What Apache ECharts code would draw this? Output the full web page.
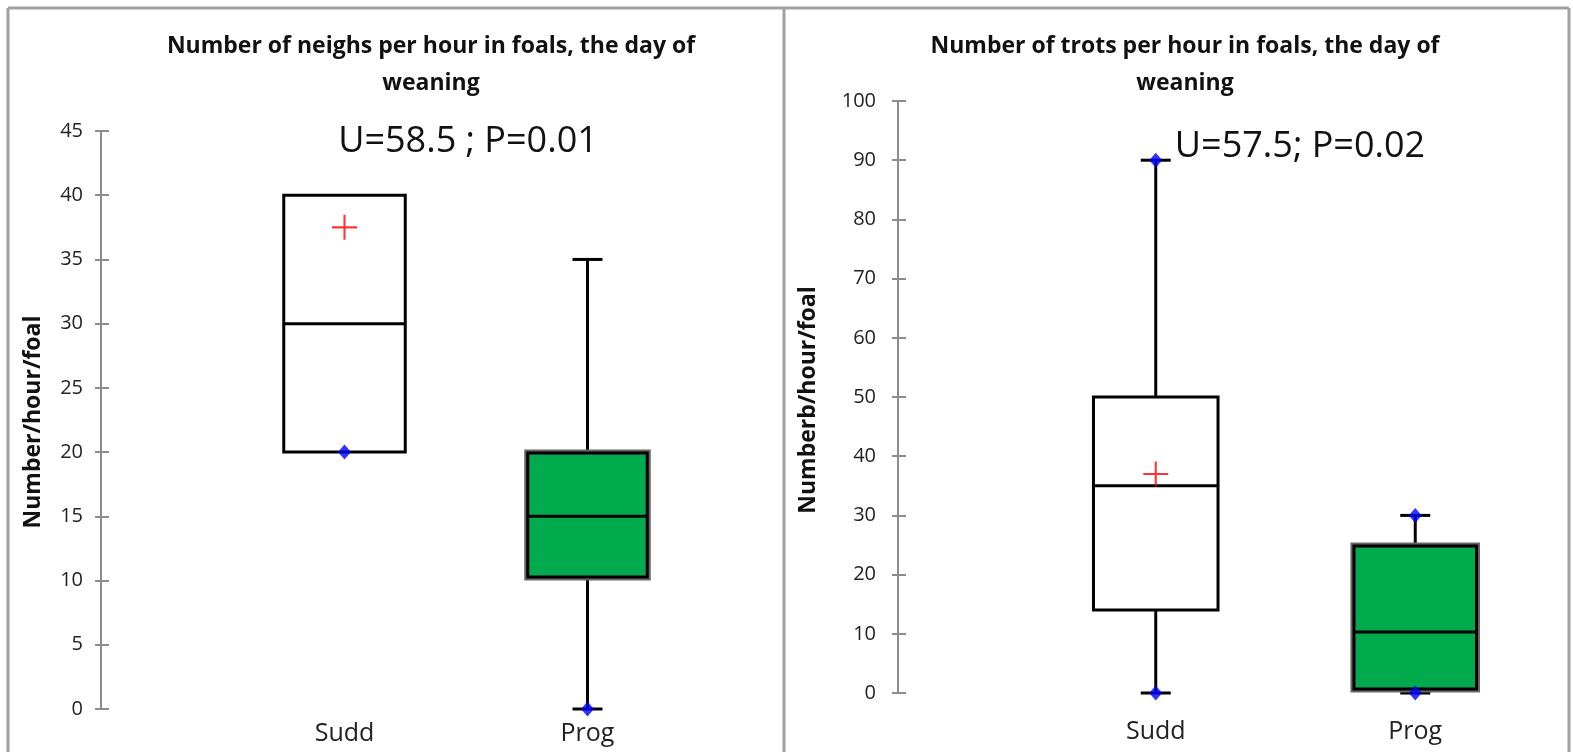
<!DOCTYPE html>
<html>
<head>
<meta charset="utf-8">
<script src="https://cdn.jsdelivr.net/npm/echarts@6/dist/echarts.min.js"></script>
<style>
html,body{margin:0;padding:0;background:#fff;}
#chart{width:1573px;height:752px;}
</style>
</head>
<body>
<div id="chart"></div>
<script>
// ---- data ----
const categories = ['Sudd', 'Prog'];
// [min, Q1, median, Q3, max]
const neighsBox = [[20, 20, 30, 40, 40], [0, 10.2, 15, 20, 35]];
const trotsBox = [[0, 14, 35, 50, 90], [0, 0.5, 10.3, 25, 30]];
// means (red plus)
const neighsMean = [[0, 37.5]];
const trotsMean = [[0, 37]];
// blue extreme points [categoryIndex, value]
const neighsPoints = [[0, 20], [1, 0]];
const trotsPoints = [[0, 90], [0, 0], [1, 30], [1, 0]];
const neighsTicks = { min: 0, max: 45, interval: 5 };
const trotsTicks = { min: 0, max: 100, interval: 10 };
const titles = ['Number of neighs per hour in foals, the day of\nweaning', 'Number of trots per hour in foals, the day of\nweaning'];
const yNames = ['Number/hour/foal', 'Numberb/hour/foal'];
const stats = ['U=58.5 ; P=0.01', 'U=57.5; P=0.02'];

// ---- styling ----
const FONT = "'Open Sans', sans-serif";
const boxFill = ['#ffffff', '#00ab4e'];
const plusPath = 'path://M11,0h2v11h11v2h-11v11h-2v-11h-11v-2h11z';

function makeRender(ratio) {
  return function (params, api) {
    const ci = api.value(0);
    const vals = [1, 2, 3, 4, 5].map(i => api.value(i));
    const x = api.coord([ci, vals[2]])[0];
    const band = api.size([1, 0])[0];
    const bw = band * ratio;
    const y = vals.map(v => api.coord([ci, v])[1]);
    const cap = 15;
    const lw = 3;
    const children = [];
    const ls = { stroke: '#000', lineWidth: lw };
    if (vals[0] < vals[1]) {
      children.push({ type: 'line', shape: { x1: x, y1: y[0], x2: x, y2: y[1] }, style: ls });
      children.push({ type: 'line', shape: { x1: x - cap, y1: y[0], x2: x + cap, y2: y[0] }, style: ls });
    }
    if (vals[4] > vals[3]) {
      children.push({ type: 'line', shape: { x1: x, y1: y[4], x2: x, y2: y[3] }, style: ls });
      children.push({ type: 'line', shape: { x1: x - cap, y1: y[4], x2: x + cap, y2: y[4] }, style: ls });
    }
    children.push({
      type: 'rect',
      shape: { x: x - bw / 2, y: y[3], width: bw, height: y[1] - y[3] },
      style: { fill: boxFill[ci], stroke: ci === 1 ? '#666' : '#000', lineWidth: ci === 1 ? 5 : lw }
    });
    if (ci === 1) {
      children.push({
        type: 'rect',
        shape: { x: x - bw / 2 + 1, y: y[3] + 1, width: bw - 2, height: y[1] - y[3] - 2 },
        style: { fill: 'none', stroke: '#000', lineWidth: 3 }
      });
    }
    children.push({ type: 'line', shape: { x1: x - bw / 2, y1: y[2], x2: x + bw / 2, y2: y[2] }, style: ls });
    return { type: 'group', children: children };
  };
}

function yAxisPair(gridIndex, t, offset, margin) {
  const base = {
    type: 'value', gridIndex: gridIndex, position: 'left', offset: offset,
    min: t.min, max: t.max, interval: t.interval, splitLine: { show: false }
  };
  return [
    Object.assign({}, base, {
      axisLine: { show: true, lineStyle: { color: '#8c8c8c', width: 2 } },
      axisTick: { show: true, length: 6, lineStyle: { color: '#8c8c8c', width: 2 } },
      axisLabel: { color: '#222', fontSize: 20, fontFamily: FONT, margin: margin }
    }),
    Object.assign({}, base, {
      axisLine: { show: false },
      axisTick: { show: true, inside: true, length: 8, lineStyle: { color: '#8c8c8c', width: 2 } },
      axisLabel: { show: false }
    })
  ];
}

function xAxisCfg(gridIndex, margin) {
  return {
    type: 'category', gridIndex: gridIndex, data: categories,
    axisLine: { show: false }, axisTick: { show: false },
    axisLabel: { color: '#222', fontSize: 25, fontFamily: FONT, margin: margin }
  };
}

const chart = echarts.init(document.getElementById('chart'), null, { renderer: 'canvas' });

const border = { stroke: '#a0a0a0', lineWidth: 3 };
const option = {
  animation: false,
  backgroundColor: '#fff',
  grid: [
    { left: 223, top: 131, width: 486, height: 578 },
    { left: 1026, top: 101, width: 519, height: 592 }
  ],
  xAxis: [xAxisCfg(0, 12), xAxisCfg(1, 26)],
  yAxis: [].concat(yAxisPair(0, neighsTicks, 122, 18), yAxisPair(1, trotsTicks, 128, 22)),
  series: [
    {
      type: 'custom', xAxisIndex: 0, yAxisIndex: 0, renderItem: makeRender(0.5),
      encode: { x: 0, y: [1, 2, 3, 4, 5] },
      data: neighsBox.map((b, i) => [i].concat(b)), z: 2
    },
    {
      type: 'custom', xAxisIndex: 1, yAxisIndex: 2, renderItem: makeRender(0.48),
      encode: { x: 0, y: [1, 2, 3, 4, 5] },
      data: trotsBox.map((b, i) => [i].concat(b)), z: 2
    },
    {
      type: 'scatter', xAxisIndex: 0, yAxisIndex: 0, data: neighsPoints, symbol: 'diamond',
      symbolSize: [13, 15], itemStyle: { color: '#0000ff' }, z: 5
    },
    {
      type: 'scatter', xAxisIndex: 1, yAxisIndex: 2, data: trotsPoints, symbol: 'diamond',
      symbolSize: [13, 15], itemStyle: { color: '#0000ff' }, z: 5
    },
    {
      type: 'scatter', xAxisIndex: 0, yAxisIndex: 0, data: neighsMean, symbol: plusPath,
      symbolSize: 25, itemStyle: { color: '#ff0000' }, z: 6
    },
    {
      type: 'scatter', xAxisIndex: 1, yAxisIndex: 2, data: trotsMean, symbol: plusPath,
      symbolSize: 25, itemStyle: { color: '#ff0000' }, z: 6
    }
  ],
  graphic: [
    { type: 'line', shape: { x1: 8, y1: 8, x2: 1569, y2: 8 }, style: border },
    { type: 'line', shape: { x1: 8, y1: 8, x2: 8, y2: 752 }, style: border },
    { type: 'line', shape: { x1: 784, y1: 8, x2: 784, y2: 752 }, style: border },
    { type: 'line', shape: { x1: 1569, y1: 8, x2: 1569, y2: 752 }, style: border },
    { type: 'text', x: 431, y: 65, style: { text: titles[0], textAlign: 'center', textVerticalAlign: 'middle', font: 'bold 23px ' + FONT, fill: '#111', lineHeight: 37 } },
    { type: 'text', x: 1185, y: 65, style: { text: titles[1], textAlign: 'center', textVerticalAlign: 'middle', font: 'bold 23px ' + FONT, fill: '#111', lineHeight: 37 } },
    { type: 'text', x: 468, y: 142, style: { text: stats[0], textAlign: 'center', textVerticalAlign: 'middle', font: '36px ' + FONT, fill: '#111' } },
    { type: 'text', x: 1300, y: 147, style: { text: stats[1], textAlign: 'center', textVerticalAlign: 'middle', font: '36px ' + FONT, fill: '#111' } },
    { type: 'text', x: 33, y: 422, rotation: Math.PI / 2, style: { text: yNames[0], textAlign: 'center', textVerticalAlign: 'middle', font: 'bold 23px ' + FONT, fill: '#111' } },
    { type: 'text', x: 808, y: 400, rotation: Math.PI / 2, style: { text: yNames[1], textAlign: 'center', textVerticalAlign: 'middle', font: 'bold 23px ' + FONT, fill: '#111' } }
  ]
};
chart.setOption(option);
</script>
</body>
</html>
